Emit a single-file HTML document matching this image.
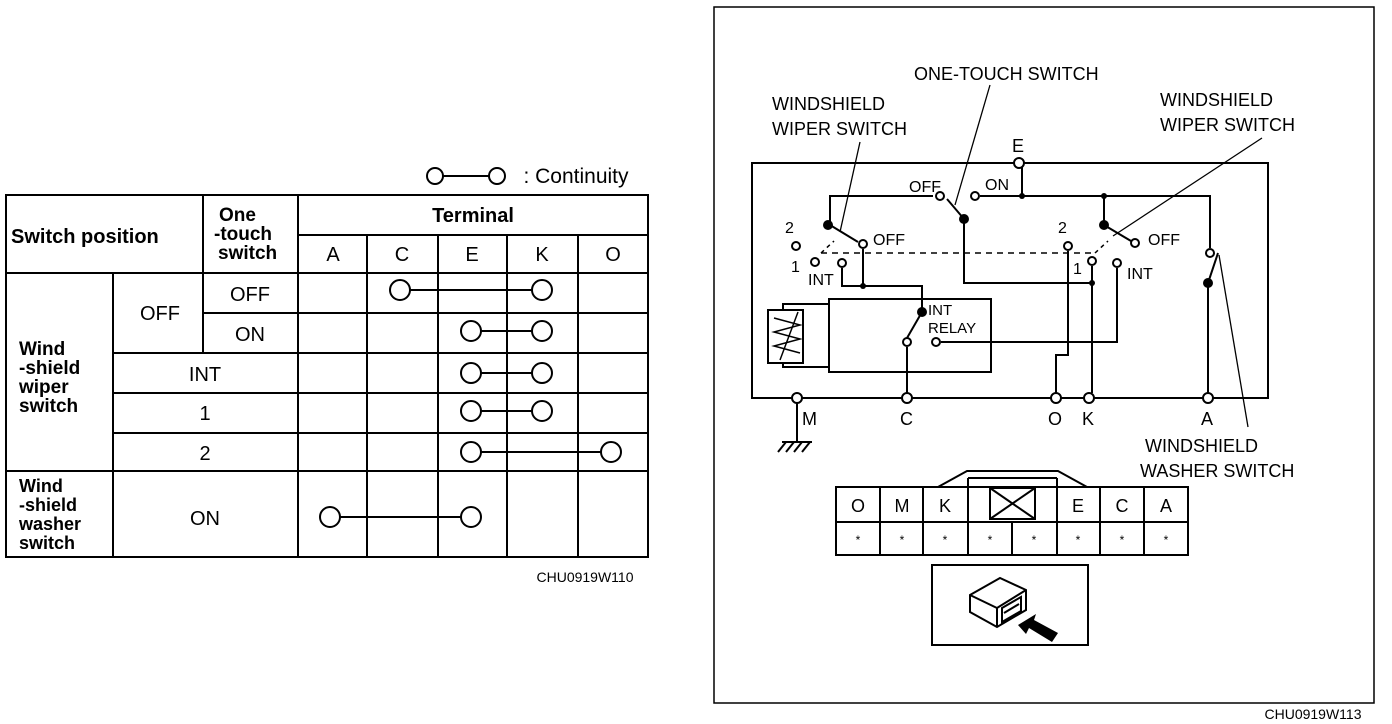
<!DOCTYPE html>
<html><head><meta charset="utf-8"><style>
html,body{margin:0;padding:0;background:#fff;}
svg{display:block;font-family:"Liberation Sans",Arial,sans-serif;}
</style></head><body>
<svg width="1392" height="724" viewBox="0 0 1392 724" xmlns="http://www.w3.org/2000/svg">
<g stroke="#000" fill="none" stroke-width="2">
<rect x="6" y="195" width="642" height="362"/>
<line x1="203" y1="195" x2="203" y2="353"/>
<line x1="298" y1="195" x2="298" y2="557"/>
<line x1="298" y1="235" x2="648" y2="235"/>
<line x1="367" y1="235" x2="367" y2="557"/>
<line x1="438" y1="235" x2="438" y2="557"/>
<line x1="507" y1="235" x2="507" y2="557"/>
<line x1="578" y1="235" x2="578" y2="557"/>
<line x1="6" y1="273" x2="648" y2="273"/>
<line x1="113" y1="273" x2="113" y2="557"/>
<line x1="203" y1="313" x2="648" y2="313"/>
<line x1="113" y1="353" x2="648" y2="353"/>
<line x1="113" y1="393" x2="648" y2="393"/>
<line x1="113" y1="433" x2="648" y2="433"/>
<line x1="6" y1="471" x2="648" y2="471"/>
<line x1="410" y1="290" x2="532" y2="290"/><circle cx="400" cy="290" r="10"/><circle cx="542" cy="290" r="10"/>
<line x1="481" y1="331" x2="532" y2="331"/><circle cx="471" cy="331" r="10"/><circle cx="542" cy="331" r="10"/>
<line x1="481" y1="373" x2="532" y2="373"/><circle cx="471" cy="373" r="10"/><circle cx="542" cy="373" r="10"/>
<line x1="481" y1="411" x2="532" y2="411"/><circle cx="471" cy="411" r="10"/><circle cx="542" cy="411" r="10"/>
<line x1="481" y1="452" x2="601" y2="452"/><circle cx="471" cy="452" r="10"/><circle cx="611" cy="452" r="10"/>
<line x1="340" y1="517" x2="461" y2="517"/><circle cx="330" cy="517" r="10"/><circle cx="471" cy="517" r="10"/>
<line x1="443" y1="176" x2="489" y2="176"/><circle cx="435" cy="176" r="8"/><circle cx="497" cy="176" r="8"/>
<rect x="714" y="7" width="660" height="696" stroke-width="1.5"/>
<rect x="752" y="163" width="516" height="235"/>
<polyline points="830,225 830,196 933,196"/>
<polyline points="980,196 1210,196 1210,248"/>
<line x1="1022" y1="163" x2="1022" y2="196"/>
<line x1="964" y1="219" x2="947" y2="199"/>
<polyline points="964,219 964,283 1092,283"/>
<line x1="830" y1="225" x2="858" y2="242"/>
<polyline points="863,249 863,286"/>
<polyline points="842,268 842,286 922,286 922,312"/>
<line x1="922" y1="312" x2="907" y2="338"/>
<line x1="907" y1="347" x2="907" y2="398"/>
<rect x="829" y="299" width="162" height="73"/>
<polyline points="941,342 1117,342 1117,268"/>
<polyline points="829,304 783,304 783,310"/>
<polyline points="829,367 783,367 783,363"/>
<rect x="768" y="310" width="35" height="53"/>
<polyline points="774,318 800,325 774,332 800,339 774,346 800,353" stroke-width="1.5"/>
<line x1="780" y1="360" x2="798" y2="312" stroke-width="1.5"/>
<line x1="1104" y1="196" x2="1104" y2="225"/>
<line x1="1104" y1="225" x2="1131" y2="241"/>
<polyline points="1068,251 1068,355 1056,355 1056,393"/>
<line x1="1092" y1="266" x2="1092" y2="393"/>
<line x1="1208" y1="283" x2="1218" y2="253"/>
<line x1="1208" y1="283" x2="1208" y2="393"/>
<polyline points="821,253 1095,253" stroke-dasharray="6,5" stroke-width="1.5"/>
<line x1="821" y1="253" x2="834" y2="241" stroke-dasharray="4,4" stroke-width="1.5"/>
<line x1="1095" y1="253" x2="1108" y2="241" stroke-dasharray="4,4" stroke-width="1.5"/>
<g stroke-width="1.3">
<line x1="860" y1="142" x2="840" y2="232"/>
<line x1="990" y1="85" x2="955" y2="205"/>
<line x1="1262" y1="138" x2="1113" y2="236"/>
<line x1="1248" y1="427" x2="1219" y2="255"/>
</g>
<line x1="797" y1="403" x2="797" y2="442"/>
<line x1="782" y1="442" x2="812" y2="442"/>
<line x1="786" y1="442" x2="778" y2="452"/><line x1="794" y1="442" x2="786" y2="452"/><line x1="802" y1="442" x2="794" y2="452"/><line x1="810" y1="442" x2="802" y2="452"/>
<polyline points="938,487 967,471 1058,471 1087,487"/>
<rect x="836" y="487" width="352" height="68"/>
<line x1="836" y1="522" x2="1188" y2="522"/>
<line x1="880" y1="487" x2="880" y2="555"/><line x1="923" y1="487" x2="923" y2="555"/>
<line x1="968" y1="478" x2="968" y2="555"/><line x1="1012" y1="522" x2="1012" y2="555"/>
<line x1="1057" y1="478" x2="1057" y2="555"/><line x1="1100" y1="487" x2="1100" y2="555"/>
<line x1="1144" y1="487" x2="1144" y2="555"/>
<line x1="968" y1="478" x2="1057" y2="478"/>
<rect x="990" y="488" width="45" height="31"/>
<line x1="990" y1="488" x2="1035" y2="519"/><line x1="1035" y1="488" x2="990" y2="519"/>
<rect x="932" y="565" width="156" height="80"/>
<g stroke-width="2">
<polygon points="970,595 1000,578 1026,590 1026,610 997,627 970,612" fill="#fff"/>
<polyline points="970,595 997,608 1026,590"/>
<line x1="997" y1="608" x2="997" y2="627"/>
<polygon points="1002,608 1021,597 1021,611 1002,622"/>
<line x1="1004" y1="613" x2="1019" y2="604"/>
</g>
</g>
<polygon points="1018,625 1036,614 1034,620 1058,633 1052,642 1029,628 1026,634" fill="#000"/>
<g stroke="#000" stroke-width="2" fill="#fff">
<circle cx="1019" cy="163" r="5"/>
<circle cx="797" cy="398" r="5"/><circle cx="907" cy="398" r="5"/><circle cx="1056" cy="398" r="5"/><circle cx="1089" cy="398" r="5"/><circle cx="1208" cy="398" r="5"/>
<circle cx="940" cy="196" r="4"/><circle cx="975" cy="196" r="4"/>
<circle cx="863" cy="244" r="4"/><circle cx="796" cy="246" r="4"/><circle cx="815" cy="262" r="4"/><circle cx="842" cy="263" r="4"/>
<circle cx="907" cy="342" r="4"/><circle cx="936" cy="342" r="4"/>
<circle cx="1135" cy="243" r="4"/><circle cx="1068" cy="246" r="4"/><circle cx="1092" cy="261" r="4"/><circle cx="1117" cy="263" r="4"/>
<circle cx="1210" cy="253" r="4"/>
</g>
<g fill="#000">
<circle cx="1022" cy="196" r="3"/><circle cx="1104" cy="196" r="3"/>
<circle cx="964" cy="219" r="5"/><circle cx="828" cy="225" r="5"/><circle cx="1104" cy="225" r="5"/>
<circle cx="863" cy="286" r="3"/><circle cx="1092" cy="283" r="3"/><circle cx="922" cy="312" r="5"/><circle cx="1208" cy="283" r="5"/>
</g>
<g font-weight="bold" font-size="20" fill="#000">
<text x="11" y="243">Switch position</text>
<text x="219" y="221" font-size="19">One</text>
<text x="214" y="240" font-size="19">-touch</text>
<text x="218" y="259" font-size="19">switch</text>
<text x="473" y="222" text-anchor="middle">Terminal</text>
<text x="19" y="355" font-size="19">Wind</text>
<text x="19" y="374" font-size="19">-shield</text>
<text x="19" y="393" font-size="19">wiper</text>
<text x="19" y="412" font-size="19">switch</text>
<text x="19" y="492" font-size="18">Wind</text>
<text x="19" y="511" font-size="18">-shield</text>
<text x="19" y="530" font-size="18">washer</text>
<text x="19" y="549" font-size="18">switch</text>
</g>
<g font-size="20" fill="#000" text-anchor="middle">
<text x="333" y="261">A</text><text x="402" y="261">C</text><text x="472" y="261">E</text><text x="542" y="261">K</text><text x="613" y="261">O</text>
<text x="160" y="320">OFF</text><text x="250" y="301">OFF</text><text x="250" y="341">ON</text>
<text x="205" y="381">INT</text><text x="205" y="420">1</text><text x="205" y="460">2</text>
<text x="205" y="525">ON</text>
<text x="576" y="183" font-size="21">: Continuity</text>
<text x="585" y="582" font-size="14">CHU0919W110</text>
<text x="1313" y="719" font-size="14">CHU0919W113</text>
</g>
<g font-size="18" fill="#000">
<text x="914" y="80">ONE-TOUCH SWITCH</text>
<text x="772" y="110">WINDSHIELD</text><text x="772" y="135">WIPER SWITCH</text>
<text x="1160" y="106">WINDSHIELD</text><text x="1160" y="131">WIPER SWITCH</text>
<text x="1145" y="452">WINDSHIELD</text><text x="1140" y="477">WASHER SWITCH</text>
<text x="1012" y="152">E</text>
<text x="909" y="192" font-size="16">OFF</text><text x="985" y="190" font-size="16">ON</text>
<text x="873" y="245" font-size="16">OFF</text><text x="1148" y="245" font-size="16">OFF</text>
<text x="785" y="233" font-size="16">2</text><text x="791" y="272" font-size="16">1</text><text x="808" y="285" font-size="16">INT</text>
<text x="1058" y="233" font-size="16">2</text><text x="1073" y="274" font-size="16">1</text><text x="1127" y="279" font-size="16">INT</text>
<text x="928" y="315" font-size="15">INT</text><text x="928" y="333" font-size="15">RELAY</text>
<text x="802" y="425">M</text><text x="900" y="425">C</text><text x="1048" y="425">O</text><text x="1082" y="425">K</text><text x="1201" y="425">A</text>
<g text-anchor="middle">
<text x="858" y="512">O</text><text x="902" y="512">M</text><text x="945" y="512">K</text><text x="1078" y="512">E</text><text x="1122" y="512">C</text><text x="1166" y="512">A</text>
<g font-size="12"><text x="858" y="544">*</text><text x="902" y="544">*</text><text x="945" y="544">*</text><text x="990" y="544">*</text><text x="1034" y="544">*</text><text x="1078" y="544">*</text><text x="1122" y="544">*</text><text x="1166" y="544">*</text></g>
</g>
</g>
</svg>
</body></html>
